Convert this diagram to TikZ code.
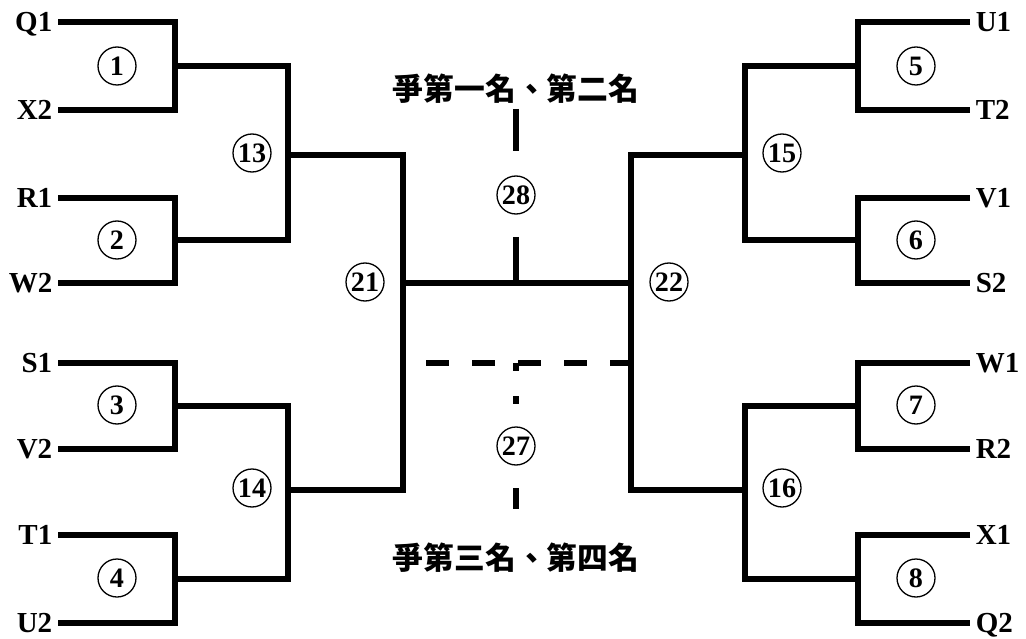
\documentclass[tikz,border=0pt]{standalone}
\usepackage{fontspec}
\setmainfont{Liberation Serif}
\newfontfamily\cjkfont{Noto Sans CJK TC}
\usetikzlibrary{positioning}

\begin{document}
\begin{tikzpicture}[x=0.2mm, y=-0.2mm, line width=1.1mm,
    team/.style={font=\fontsize{16.5}{18}\bfseries\selectfont, inner xsep=0.6mm, inner ysep=0pt, text height=11.2pt, text depth=0pt},
    rnd/.style={circle, draw, line width=0.26mm, minimum size=7.6mm, inner sep=0pt, font=\fontsize{16}{16}\bfseries\selectfont},
    title/.style={font=\fontsize{17.5}{20}\cjkfont\bfseries\selectfont, inner sep=0pt}]
  \useasboundingbox (0,0) rectangle (1026,639);

  % left half
  \node[team, anchor=east] (q1) at (58,22) {Q1};
  \node[team, anchor=east] (x2) at (58,110) {X2};
  \node[team, anchor=east] (r1) at (58,198) {R1};
  \node[team, anchor=east] (w2) at (58,283) {W2};
  \node[team, anchor=east] (s1) at (58,363) {S1};
  \node[team, anchor=east] (v2) at (58,449) {V2};
  \node[team, anchor=east] (t1) at (58,535) {T1};
  \node[team, anchor=east] (u2) at (58,623) {U2};

  \coordinate (a1) at (175,66);
  \coordinate (a2) at (175,240);
  \coordinate (a3) at (175,406);
  \coordinate (a4) at (175,579);
  \coordinate (b1) at (288,155);
  \coordinate (b2) at (288,490);
  \coordinate (c1) at (403,283);

  \draw (q1.east) -| (a1) |- (x2.east);
  \draw (r1.east) -| (a2) |- (w2.east);
  \draw (s1.east) -| (a3) |- (v2.east);
  \draw (t1.east) -| (a4) |- (u2.east);
  \draw (a1) -| (b1) |- (a2);
  \draw (a3) -| (b2) |- (a4);
  \draw (b1) -| (c1) |- (b2);

  \node[rnd] (m1) at (117,66) {1};
  \node[rnd] (m2) at (117,240) {2};
  \node[rnd] (m3) at (117,405) {3};
  \node[rnd] (m4) at (117,578) {4};
  \node[rnd] (m13) at (252,153) {13};
  \node[rnd] (m14) at (252,488) {14};
  \node[rnd] (m21) at (365,282) {21};

  % right half
  \node[team, anchor=west] (u1) at (970,22) {U1};
  \node[team, anchor=west] (t2) at (970,110) {T2};
  \node[team, anchor=west] (v1) at (970,198) {V1};
  \node[team, anchor=west] (s2) at (970,283) {S2};
  \node[team, anchor=west] (w1) at (970,363) {W1};
  \node[team, anchor=west] (r2) at (970,449) {R2};
  \node[team, anchor=west] (x1) at (970,535) {X1};
  \node[team, anchor=west] (q2) at (970,623) {Q2};

  \coordinate (a5) at (858,66);
  \coordinate (a6) at (858,240);
  \coordinate (a7) at (858,406);
  \coordinate (a8) at (858,579);
  \coordinate (b3) at (745,155);
  \coordinate (b4) at (745,490);
  \coordinate (c2) at (631,283);

  \draw (u1.west) -| (a5) |- (t2.west);
  \draw (v1.west) -| (a6) |- (s2.west);
  \draw (w1.west) -| (a7) |- (r2.west);
  \draw (x1.west) -| (a8) |- (q2.west);
  \draw (a5) -| (b3) |- (a6);
  \draw (a7) -| (b4) |- (a8);
  \draw (b3) -| (c2) |- (b4);

  \node[rnd] (m5) at (916,66) {5};
  \node[rnd] (m6) at (916,240) {6};
  \node[rnd] (m7) at (916,405) {7};
  \node[rnd] (m8) at (916,578) {8};
  \node[rnd] (m15) at (782,153) {15};
  \node[rnd] (m16) at (782,488) {16};
  \node[rnd] (m22) at (669,282) {22};

  % finals
  \node[title] (first) at (516,89) {爭第一名、第二名};
  \node[title] (third) at (516,558) {爭第三名、第四名};
  \node[rnd] (m28) at (516,195) {28};
  \node[rnd] (m27) at (516,446) {27};

  \coordinate (f) at (516,283);
  \coordinate (u28) at (516,109);
  \coordinate (v28) at (516,151);
  \coordinate (w28) at (516,237);
  \coordinate (d1) at (403,363);
  \coordinate (d2) at (631,363);
  \coordinate (g) at (516,363);
  \coordinate (u27) at (516,427);
  \coordinate (v27) at (516,488);
  \coordinate (w27) at (516,509);

  \draw (c1) -- (c2);
  \draw (u28) -- (v28);
  \draw (w28) -- (f);
  \draw[dash pattern=on 4.6mm off 4.6mm, dash phase=4.6mm] (d1) -- (d2);
  \draw[dash pattern=on 1.6mm off 5mm] (g) -- (u27);
  \draw (v27) -- (w27);
\end{tikzpicture}
\end{document}
